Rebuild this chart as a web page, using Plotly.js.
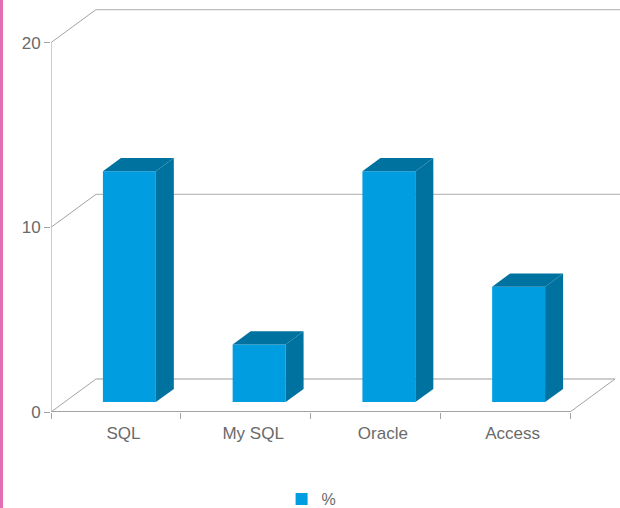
<!DOCTYPE html>
<html>
<head>
<meta charset="utf-8">
<script src="https://cdn.plot.ly/plotly-3.0.1.min.js"></script>
<style>
  html, body { margin: 0; padding: 0; background: #fff; }
  #wrap { position: relative; width: 620px; height: 508px; overflow: hidden; }
  #chart { position: absolute; left: 0; top: 0; width: 620px; height: 508px; }
  #edge { position: absolute; left: 0; top: 0; width: 3px; height: 508px; background: #e26fb1; }
</style>
</head>
<body>
<div id="wrap"><div id="chart"></div><div id="edge"></div></div>
<script>
// ---- data ----
const categories = ['SQL', 'My SQL', 'Oracle', 'Access'];
const values = [12.5, 3.125, 12.5, 6.25];
const seriesName = '%';
const yTickValues = [0, 10, 20];

// ---- geometry / style ----
const W = 620, H = 508;
const mL = 51, mB = 96;
const pxPerX = 129.75, pxPerY = 18.47;
const depthPxX = 45, depthPxY = 33;
const DX = depthPxX / pxPerX, DY = depthPxY / pxPerY;
const xMax = (W - mL) / pxPerX;
const yMax = (H - mB) / pxPerY;
const f0 = 0.3, f1 = 0.7;        // bar front/back depth fractions
const barW = 0.408;
const frontColor = '#009ee0';
const darkColor = '#00729f';
const gridColor = '#bdbdbd';
const axisColor = '#a3a3a3';
const textColor = '#6a6a6a';
const nCat = categories.length;

const xFront = categories.map((c, i) => i + 0.5 + f0 * DX);
const base = f0 * DY;

const traces = [];
// front faces as bars
traces.push({
  type: 'bar', name: seriesName, x: xFront, y: values,
  base: categories.map(() => base), width: barW,
  marker: { color: frontColor, line: { width: 0 } },
  hoverinfo: 'skip', showlegend: true
});
// top and side faces
const ddx = (f1 - f0) * DX, ddy = (f1 - f0) * DY;
values.forEach((v, i) => {
  const xL = xFront[i] - barW / 2, xR = xFront[i] + barW / 2;
  const yB = base, yT = v + base;
  traces.push({
    type: 'scatter', mode: 'lines', fill: 'toself', fillcolor: darkColor,
    line: { width: 0, color: darkColor }, hoverinfo: 'skip', showlegend: false,
    x: [xL, xR, xR + ddx, xL + ddx, xL],
    y: [yT, yT, yT + ddy, yT + ddy, yT]
  });
  traces.push({
    type: 'scatter', mode: 'lines', fill: 'toself', fillcolor: darkColor,
    line: { width: 0, color: darkColor }, hoverinfo: 'skip', showlegend: false,
    x: [xR, xR + ddx, xR + ddx, xR, xR],
    y: [yB, yB + ddy, yT + ddy, yT, yB]
  });
});

// frame lines
const shapes = [];
function seg(x0, y0, x1, y1, color, width) {
  shapes.push({ type: 'line', xref: 'x', yref: 'y', x0, y0, x1, y1, layer: 'below',
    line: { color, width } });
}
yTickValues.forEach(g => {
  seg(0, g, DX, g + DY, axisColor, 1);
  seg(DX, g + DY, g === 0 ? nCat + DX : xMax, g + DY, gridColor, 1.3);
});
seg(nCat, 0, nCat + DX, DY, axisColor, 1);
seg(0, 0, 0, yTickValues[yTickValues.length - 1], gridColor, 1.5);
seg(0, 0, nCat, 0, axisColor, 1.8);

const layout = {
  width: W, height: H,
  margin: { l: mL, r: 0, t: 0, b: mB, pad: 0, autoexpand: false },
  paper_bgcolor: '#fff', plot_bgcolor: 'rgba(0,0,0,0)',
  font: { family: 'Liberation Sans, Arial, sans-serif', size: 17, color: textColor },
  showlegend: true,
  barmode: 'overlay',
  xaxis: {
    range: [0, xMax], showgrid: false, zeroline: false, showline: false,
    tickmode: 'array', tickvals: categories.map((c, i) => i + 0.5 + 0.058), ticktext: categories,
    ticks: '', ticklabelstandoff: 9, tickfont: { size: 17, color: textColor },
    minor: { tickmode: 'array', tickvals: categories.map((c, i) => i).concat([nCat]),
      ticks: 'outside', ticklen: 6, tickcolor: axisColor, tickwidth: 1 },
    fixedrange: true, automargin: false
  },
  yaxis: {
    range: [0, yMax], showgrid: false, zeroline: false, showline: false,
    tickmode: 'array', tickvals: yTickValues, ticks: 'outside', ticklen: 6,
    tickcolor: axisColor, tickwidth: 1, tickfont: { size: 17, color: textColor },
    fixedrange: true, automargin: false
  },
  legend: {
    orientation: 'h', x: 0.458, xanchor: 'center', y: -0.17, yanchor: 'top',
    font: { size: 16, color: textColor }, bgcolor: 'rgba(0,0,0,0)'
  },
  shapes: shapes
};

Plotly.newPlot('chart', traces, layout, { staticPlot: true, displayModeBar: false });
</script>
</body>
</html>
